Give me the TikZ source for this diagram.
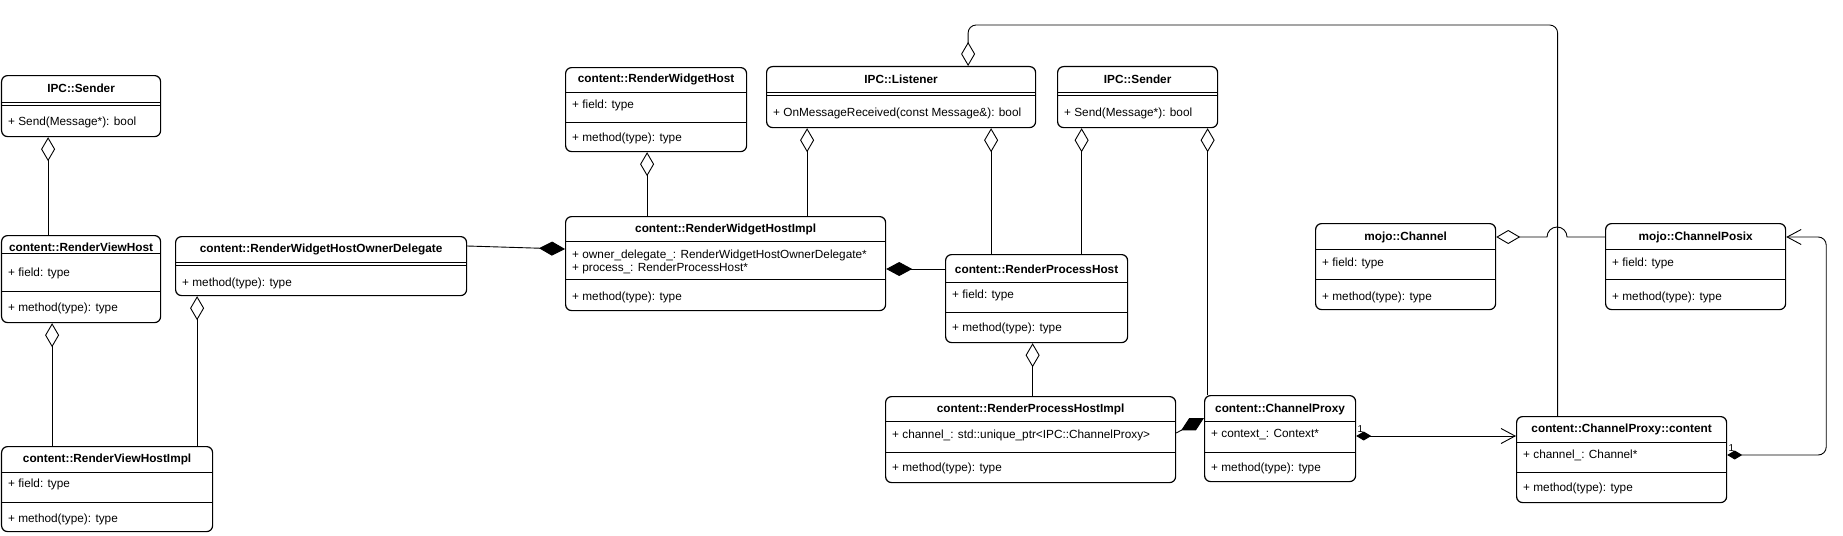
\documentclass[tikz,border=0pt]{standalone}
\usepackage{fontspec}
\setmainfont{Liberation Sans}
\usepackage{tikz}
\usetikzlibrary{arrows.meta,positioning}

\begin{document}
\begin{tikzpicture}[x=1pt, y=-1pt,
    cls/.style={draw, line width=1.2pt, rounded corners=6pt, anchor=north west, inner sep=0pt},
    hdr/.style={inner sep=0pt, font=\fontsize{11.8}{14}\selectfont\bfseries},
    txt/.style={inner sep=0pt, anchor=west, font=\fontsize{11.8}{14}\selectfont},
    lbl/.style={inner sep=0pt, anchor=south west, font=\fontsize{10}{12}\selectfont},
    wire/.style={line width=0.9pt},
    aggarrow/.style={wire, -{Diamond[open, length=24pt, width=14pt]}},
    comparrow/.style={wire, -{Diamond[length=26pt, width=14pt]}},
    assoc/.style={wire, rounded corners=8pt, {Diamond[length=15pt, width=9pt]}-{Straight Barb[length=14pt, width=15pt]}}]

    \useasboundingbox (0,0) rectangle (1843,535);

    % classes
    \node[cls, minimum width=159pt, minimum height=61pt] (senderA)  at (1,75)     {};
    \node[cls, minimum width=159pt, minimum height=87pt] (rvh)      at (1,235)    {};
    \node[cls, minimum width=211pt, minimum height=85pt] (rvhImpl)  at (1,446)    {};
    \node[cls, minimum width=291pt, minimum height=59pt] (ownerDel) at (175,236)  {};
    \node[cls, minimum width=181pt, minimum height=84pt] (rwh)      at (565,67)   {};
    \node[cls, minimum width=269pt, minimum height=61pt] (listener) at (766,66)   {};
    \node[cls, minimum width=160pt, minimum height=61pt] (senderB)  at (1057,66)  {};
    \node[cls, minimum width=320pt, minimum height=94pt] (rwhi)     at (565,216)  {};
    \node[cls, minimum width=182pt, minimum height=88pt] (rph)      at (945,254)  {};
    \node[cls, minimum width=290pt, minimum height=86pt] (rphi)     at (885,396)  {};
    \node[cls, minimum width=151pt, minimum height=86pt] (proxy)    at (1204,395) {};
    \node[cls, minimum width=180pt, minimum height=86pt] (mojoCh)   at (1315,223) {};
    \node[cls, minimum width=180pt, minimum height=86pt] (posix)    at (1605,223) {};
    \node[cls, minimum width=210pt, minimum height=86pt] (proxyCt)  at (1516,416) {};

    % compartments
    \foreach \n/\a/\b in {rvh/18/56, rvhImpl/26/56, rwh/25/55, rwhi/25/63, rph/28/58,
                          rphi/25/56, proxy/26/57, mojoCh/26/56, posix/26/56, proxyCt/26/56,
                          senderA/27/30, ownerDel/26/29, listener/26/29, senderB/26/29}{
      \draw[wire] ([yshift=-\a]\n.north west) -- ([yshift=-\a]\n.north east);
      \draw[wire] ([yshift=-\b]\n.north west) -- ([yshift=-\b]\n.north east);
    }

    % titles and members
    \node[hdr] (senderAT) at ([yshift=-13]senderA.north) {IPC::Sender};
    \node[txt] (senderAM) at ([xshift=7, yshift=-47]senderA.north west) {+ Send(Message*): bool};

    \node[hdr] (rvhT) at ([yshift=-12]rvh.north) {content::RenderViewHost};
    \node[txt] (rvhF) at ([xshift=7, yshift=-38]rvh.north west) {+ field: type};
    \node[txt] (rvhM) at ([xshift=7, yshift=-73]rvh.north west) {+ method(type): type};

    \node[hdr] (rvhImplT) at ([yshift=-13]rvhImpl.north) {content::RenderViewHostImpl};
    \node[txt] (rvhImplF) at ([xshift=7, yshift=-38]rvhImpl.north west) {+ field: type};
    \node[txt] (rvhImplM) at ([xshift=7, yshift=-73]rvhImpl.north west) {+ method(type): type};

    \node[hdr] (ownerDelT) at ([yshift=-13]ownerDel.north) {content::RenderWidgetHostOwnerDelegate};
    \node[txt] (ownerDelM) at ([xshift=7, yshift=-47]ownerDel.north west) {+ method(type): type};

    \node[hdr] (rwhT) at ([yshift=-12]rwh.north) {content::RenderWidgetHost};
    \node[txt] (rwhF) at ([xshift=7, yshift=-38]rwh.north west) {+ field: type};
    \node[txt] (rwhM) at ([xshift=7, yshift=-71]rwh.north west) {+ method(type): type};

    \node[hdr] (listenerT) at ([yshift=-13]listener.north) {IPC::Listener};
    \node[txt] (listenerM) at ([xshift=7, yshift=-47]listener.north west) {+ OnMessageReceived(const Message\&): bool};

    \node[hdr] (senderBT) at ([yshift=-13]senderB.north) {IPC::Sender};
    \node[txt] (senderBM) at ([xshift=7, yshift=-47]senderB.north west) {+ Send(Message*): bool};

    \node[hdr] (rwhiT) at ([yshift=-13]rwhi.north) {content::RenderWidgetHostImpl};
    \node[txt] (rwhiF) at ([xshift=7, yshift=-39]rwhi.north west) {+ owner\_delegate\_: RenderWidgetHostOwnerDelegate*};
    \node[txt] (rwhiG) at ([xshift=7, yshift=-52]rwhi.north west) {+ process\_: RenderProcessHost*};
    \node[txt] (rwhiM) at ([xshift=7, yshift=-81]rwhi.north west) {+ method(type): type};

    \node[hdr] (rphT) at ([yshift=-15]rph.north) {content::RenderProcessHost};
    \node[txt] (rphF) at ([xshift=7, yshift=-41]rph.north west) {+ field: type};
    \node[txt] (rphM) at ([xshift=7, yshift=-74]rph.north west) {+ method(type): type};

    \node[hdr] (rphiT) at ([yshift=-13]rphi.north) {content::RenderProcessHostImpl};
    \node[txt] (rphiF) at ([xshift=7, yshift=-39]rphi.north west) {+ channel\_: std::unique\_ptr<IPC::ChannelProxy>};
    \node[txt] (rphiM) at ([xshift=7, yshift=-72]rphi.north west) {+ method(type): type};

    \node[hdr] (proxyT) at ([yshift=-14]proxy.north) {content::ChannelProxy};
    \node[txt] (proxyF) at ([xshift=7, yshift=-40]proxy.north west) {+ context\_: Context*};
    \node[txt] (proxyM) at ([xshift=7, yshift=-73]proxy.north west) {+ method(type): type};

    \node[hdr] (mojoChT) at ([yshift=-14]mojoCh.north) {mojo::Channel};
    \node[txt] (mojoChF) at ([xshift=7, yshift=-40]mojoCh.north west) {+ field: type};
    \node[txt] (mojoChM) at ([xshift=7, yshift=-74]mojoCh.north west) {+ method(type): type};

    \node[hdr] (posixT) at ([yshift=-14]posix.north) {mojo::ChannelPosix};
    \node[txt] (posixF) at ([xshift=7, yshift=-40]posix.north west) {+ field: type};
    \node[txt] (posixM) at ([xshift=7, yshift=-74]posix.north west) {+ method(type): type};

    \node[hdr] (proxyCtT) at ([yshift=-13]proxyCt.north) {content::ChannelProxy::content};
    \node[txt] (proxyCtF) at ([xshift=7, yshift=-39]proxyCt.north west) {+ channel\_: Channel*};
    \node[txt] (proxyCtM) at ([xshift=7, yshift=-72]proxyCt.north west) {+ method(type): type};

    % connectors
    \draw[aggarrow] ([xshift=-33]rvh.north) -- ([xshift=-33]senderA.south);
    \draw[aggarrow] ([xshift=-29]rvh.south |- rvhImpl.north) -- ([xshift=-29]rvh.south);
    \draw[aggarrow] ([xshift=-124]ownerDel.south |- rvhImpl.north) -- ([xshift=-124]ownerDel.south);
    \draw[comparrow] ([yshift=-10]ownerDel.north east) -- ([yshift=-33]rwhi.north west);
    \draw[aggarrow] ([xshift=-9]rwh.south |- rwhi.north) -- ([xshift=-9]rwh.south);
    \draw[aggarrow] ([xshift=-94]listener.south |- rwhi.north) -- ([xshift=-94]listener.south);
    \draw[aggarrow] ([xshift=90]listener.south |- rph.north) -- ([xshift=90]listener.south);
    \draw[aggarrow, rounded corners=8pt] ([xshift=-64]proxyCt.north) |- ([xshift=67, yshift=41]listener.north) -- ([xshift=67]listener.north);
    \draw[aggarrow] ([xshift=-56]senderB.south |- rph.north) -- ([xshift=-56]senderB.south);
    \draw[aggarrow] ([xshift=70]senderB.south |- proxy.north) -- ([xshift=70]senderB.south);
    \draw[comparrow] ([yshift=-15]rph.north west) -- ([yshift=-53]rwhi.north east);
    \draw[aggarrow] ([xshift=-4]rph.south |- rphi.north) -- ([xshift=-4]rph.south);
    \draw[comparrow] ([yshift=-37]rphi.north east) -- ([yshift=-23]proxy.north west);
    \draw[assoc] ([yshift=-41]proxy.north east) -- node[lbl, pos=0, xshift=1pt, yshift=3pt] (oneA) {1} ([yshift=-20]proxyCt.north west);
    \draw[aggarrow] ([yshift=-14]posix.north west) -- ++(-38,0) arc[start angle=0, end angle=180, radius=10pt] -- ([yshift=-14]mojoCh.north east);
    \draw[assoc] ([yshift=-39]proxyCt.north east) -| node[lbl, pos=0, xshift=1pt, yshift=3pt] (oneB) {1} ([xshift=40, yshift=-14]posix.north east) -- ([yshift=-14]posix.north east);
\end{tikzpicture}
\end{document}
